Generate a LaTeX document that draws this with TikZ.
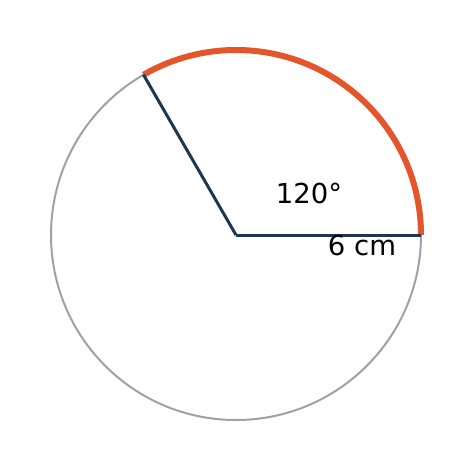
\documentclass[tikz,border=0pt]{standalone}
\usepackage{fontspec}
\setmainfont{DejaVu Sans}
\definecolor{rimgray}{HTML}{9AA3AB}
\definecolor{arcorange}{HTML}{E5552B}
\definecolor{radiusnavy}{HTML}{1F3552}
\begin{document}
\begin{tikzpicture}[x=1pt,y=-1pt]
	 \tikzstyle{rim}=[draw=rimgray,line width=2pt]
	 \tikzstyle{arc edge} = [draw=arcorange,line width=6pt]
	 \tikzstyle{radius edge} = [draw=radiusnavy,line width=3pt]
	 \tikzstyle{label} = [inner sep=0pt,font=\fontsize{27.5}{32}\selectfont]

	 \useasboundingbox (0,0) rectangle (471,471);
	 \coordinate (o) at (236,235);
	 \coordinate (a) at (421,235);
	 \coordinate (b) at (143.5,74.8);

	 \draw[rim] (o) circle[radius=185];
	 \draw[arc edge] (a) arc[start angle=0,end angle=-120,radius=185];
	 \draw[radius edge] (o) -- (a);
	 \draw[radius edge] (o) -- (b);

	 \node[label] (angle) at (309,193) {120°};
	 \node[label] (length) at (362,245) {6 cm};
\end{tikzpicture}
\end{document}
